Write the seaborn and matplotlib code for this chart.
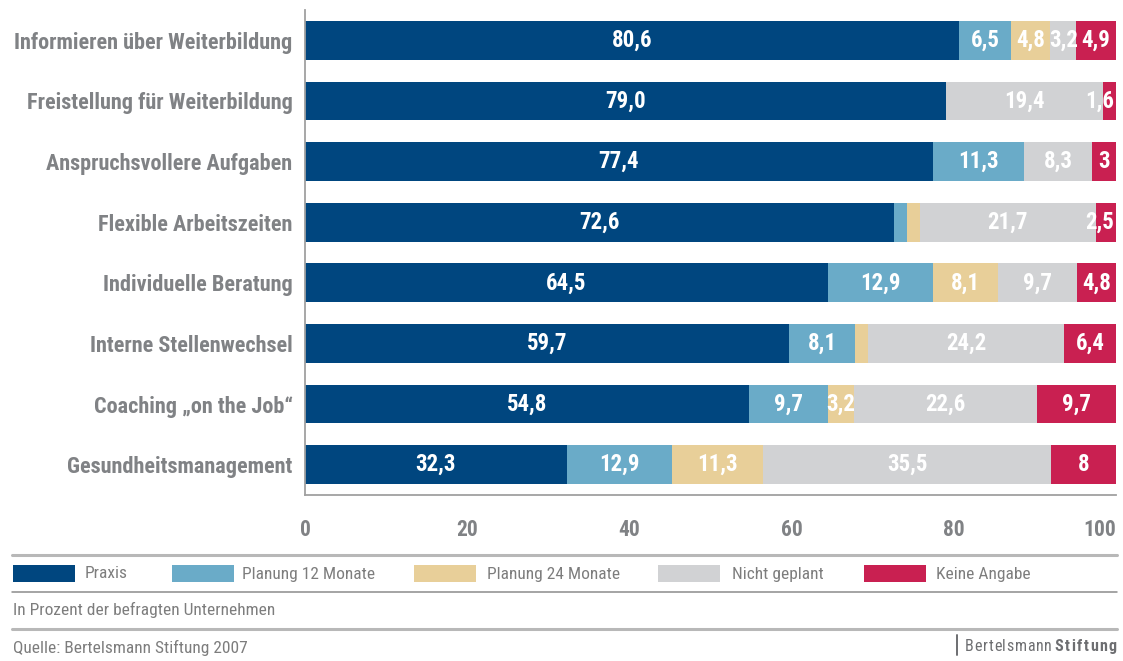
import matplotlib
matplotlib.use("Agg")
import matplotlib.pyplot as plt
from matplotlib import font_manager
from matplotlib.font_manager import FontProperties
from matplotlib.patches import Rectangle
from matplotlib.lines import Line2D
import pandas as pd
import seaborn as sns

# ---------------------------------------------------------------- data
categories = [
    "Informieren über Weiterbildung",
    "Freistellung für Weiterbildung",
    "Anspruchsvollere Aufgaben",
    "Flexible Arbeitszeiten",
    "Individuelle Beratung",
    "Interne Stellenwechsel",
    "Coaching „on the Job“",
    "Gesundheitsmanagement",
]
series_names = ["Praxis", "Planung 12 Monate", "Planung 24 Monate",
                "Nicht geplant", "Keine Angabe"]
praxis = [80.6, 79.0, 77.4, 72.6, 64.5, 59.7, 54.8, 32.3]
planung_12 = [6.5, 0.0, 11.3, 1.6, 12.9, 8.1, 9.7, 12.9]
planung_24 = [4.8, 0.0, 0.0, 1.6, 8.1, 1.6, 3.2, 11.3]
nicht_geplant = [3.2, 19.4, 8.3, 21.7, 9.7, 24.2, 22.6, 35.5]
keine_angabe = [4.9, 1.6, 3, 2.5, 4.8, 6.4, 9.7, 8]
x_ticks = [0, 20, 40, 60, 80, 100]

series_values = [praxis, planung_12, planung_24, nicht_geplant, keine_angabe]
colors = ["#00467f", "#6aabc8", "#e8cf99", "#d1d2d4", "#c92051"]

# ---------------------------------------------------------------- fonts
def pick_font(candidates):
    for name in candidates:
        try:
            font_manager.findfont(FontProperties(family=name),
                                  fallback_to_default=False)
            return name
        except Exception:
            continue
    return "DejaVu Sans"

FONT = pick_font(["Liberation Sans Narrow", "Roboto Condensed",
                  "Open Sans Condensed", "Liberation Sans"])

sns.set_theme(style="white")
plt.rcParams["font.family"] = [FONT, "DejaVu Sans"]

GREY_TEXT = "#808285"
W, H = 1123, 661

fig = plt.figure(figsize=(W / 100, H / 100), dpi=100)
fig.patch.set_facecolor("white")
renderer = fig.canvas.get_renderer()

def fx(x):
    return x / W

def fy(y):
    return 1 - y / H

ax = fig.add_axes([fx(305), fy(495), (1116 - 305) / W, (495 - 10) / H])

# ---------------------------------------------------------------- stacked bars
# cumulative totals, drawn from the outermost segment inwards
cum = []
running = [0.0] * len(categories)
for vals in series_values:
    running = [r + v for r, v in zip(running, vals)]
    cum.append(list(running))

for i in reversed(range(len(series_values))):
    df = pd.DataFrame({"Kategorie": categories, "Wert": cum[i]})
    sns.barplot(data=df, x="Wert", y="Kategorie", orient="h",
                color=colors[i], saturation=1, width=0.64,
                linewidth=0, ax=ax)

ax.set_xlim(0, 100)
ax.set_ylim(len(categories) - 0.5, -0.5)

# value labels centred in each segment
def fmt(v):
    if isinstance(v, int):
        return str(v)
    return f"{v:.1f}".replace(".", ",")

px_per_unit = ax.get_window_extent(renderer).width / 100.0
for i, (name, vals) in enumerate(zip(series_names, series_values)):
    for row, v in enumerate(vals):
        if v == 0 or (v < 2 and name != "Keine Angabe"):
            continue
        centre = cum[i][row] - v / 2
        t = ax.text(centre, row, fmt(v), ha="center", va="center",
                    color="white", fontsize=16.5, fontweight="bold")
        # keep labels at the bar end inside the axis
        half = t.get_window_extent(renderer).width / 2 / px_per_unit
        if centre + half > 99.8:
            t.set_x(99.8 - half)

# ---------------------------------------------------------------- axes styling
ax.set_xticks(x_ticks)
ax.set_xticklabels([str(t) for t in x_ticks])
ax.set_xlabel("")
ax.set_ylabel("")
for side in ["top", "right"]:
    ax.spines[side].set_visible(False)
for side in ["left", "bottom"]:
    ax.spines[side].set_color("#a0a0a0")
    ax.spines[side].set_linewidth(1.3)
ax.tick_params(axis="x", direction="in", length=7, width=0.9,
               color="#a0a0a0", pad=17, labelsize=15.5, labelcolor=GREY_TEXT)
ax.tick_params(axis="y", length=0, pad=9, labelsize=16, labelcolor=GREY_TEXT)
for lab in ax.get_xticklabels() + ax.get_yticklabels():
    lab.set_fontweight("bold")
ax.get_xticklabels()[-1].set_horizontalalignment("right")
ax.set_facecolor("white")
ax.grid(False)

# ---------------------------------------------------------------- legend and footer
def hline(y, lw, color):
    fig.add_artist(Line2D([fx(12), fx(1117)], [fy(y), fy(y)],
                          transform=fig.transFigure, lw=lw, color=color))

hline(555, 2.2, "#b8b8b8")
hline(592, 1.1, "#8c8c8c")
hline(629, 2.2, "#b8b8b8")

legend_patch_x = [13, 172, 414, 658, 864]
legend_text_x = [85, 242, 487, 732, 936]
for name, col, px, tx in zip(series_names, colors, legend_patch_x, legend_text_x):
    fig.add_artist(Rectangle((fx(px), fy(582)), 62 / W, 17 / H,
                             transform=fig.transFigure, facecolor=col,
                             edgecolor="none"))
    fig.text(fx(tx), fy(574), name, ha="left", va="center",
             fontsize=12.5, color="#7d7d7d")

fig.text(fx(13), fy(610), "In Prozent der befragten Unternehmen",
         ha="left", va="center", fontsize=12.5, color="#7d7d7d")
fig.text(fx(13), fy(648), "Quelle: Bertelsmann Stiftung 2007",
         ha="left", va="center", fontsize=12.5, color="#7d7d7d")

# publisher mark with letter spacing
fig.add_artist(Line2D([fx(957), fx(957)], [fy(635), fy(655)],
                      transform=fig.transFigure, lw=1.4, color="#6d6e71"))

def tracked(s, x0, x1, y, **kw):
    items = []
    total = 0.0
    for ch in s:
        t = fig.text(0, fy(y), ch, ha="left", va="baseline", **kw)
        w = t.get_window_extent(renderer).width
        items.append((t, w))
        total += w
    gap = (x1 - x0 - total) / max(len(s) - 1, 1)
    x = x0
    for t, w in items:
        t.set_x(fx(x))
        x += w + gap

tracked("Bertelsmann", 965, 1052, 651, fontsize=11.5, color="#6d6e71")
tracked("Stiftung", 1054, 1117, 651, fontsize=11.5, color="#6d6e71",
        fontweight="bold")

fig.savefig("out.png", dpi=100, facecolor="white")
